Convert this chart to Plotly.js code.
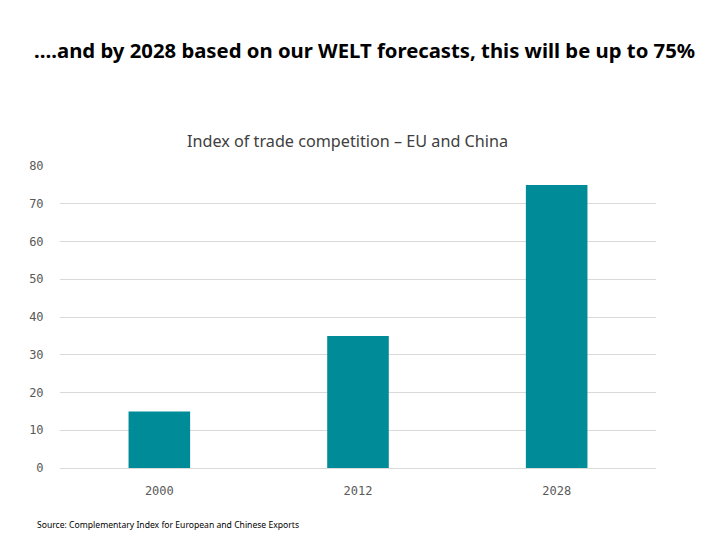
<!DOCTYPE html>
<html>
<head>
<meta charset="utf-8">
<script src="https://cdn.plot.ly/plotly-3.0.1.min.js"></script>
<style>body{margin:0;padding:0;background:#fff}#chart{width:720px;height:540px}</style>
</head>
<body>
<div id="chart"></div>
<script>
const categories = ["2000", "2012", "2028"];
const values = [15, 35, 75];
const yTicks = [0, 10, 20, 30, 40, 50, 60, 70, 80];

const trace = {
  type: "bar",
  x: categories,
  y: values,
  marker: {color: "#008B98"},
  hoverinfo: "x+y"
};

const layout = {
  width: 720, height: 540,
  margin: {l: 60, r: 64, t: 166, b: 72},
  paper_bgcolor: "#ffffff", plot_bgcolor: "#ffffff",
  bargap: 0.69,
  showlegend: false,
  xaxis: {
    type: "category",
    showgrid: false, zeroline: false, showline: false,
    ticks: "outside", ticklen: 12, tickcolor: "rgba(0,0,0,0)",
    tickfont: {family: "DejaVu Sans Mono, monospace", size: 12, color: "#595959"}
  },
  yaxis: {
    range: [0, 80],
    tickvals: yTicks,
    showgrid: true, gridcolor: "#d9d9d9", gridwidth: 1,
    zeroline: true, zerolinecolor: "#d9d9d9", zerolinewidth: 1,
    showline: false,
    ticks: "outside", ticklen: 13, tickcolor: "rgba(0,0,0,0)",
    tickfont: {family: "DejaVu Sans Mono, monospace", size: 12, color: "#595959"}
  },
  annotations: [
    {text: "<b>….and by 2028 based on our WELT forecasts, this will be up to 75%</b>",
     xref: "paper", yref: "paper", x: 364, y: 50, showarrow: false,
     font: {family: "Noto Sans, sans-serif", size: 20.3, color: "#000000"}},
    {text: "Index of trade competition – EU and China",
     xref: "paper", yref: "paper", x: 347, y: 141, showarrow: false,
     font: {family: "Noto Sans, sans-serif", size: 16.2, color: "#404040"}},
    {text: "Source: Complementary Index for European and Chinese Exports",
     xref: "paper", yref: "paper", x: 35, y: 525, xanchor: "left", showarrow: false,
     font: {family: "Noto Sans, sans-serif", size: 8.6, color: "#000000"}}
  ]
};

// convert pixel positions of annotations to paper coords
const pw = 720 - 60 - 64, ph = 540 - 166 - 72;
layout.annotations.forEach(a => {
  a.x = (a.x - 60) / pw;
  a.y = (540 - 72 - a.y) / ph;
  a.yanchor = "middle";
  if (!a.xanchor) a.xanchor = "center";
});

Plotly.newPlot("chart", [trace], layout, {displayModeBar: false, staticPlot: true});
</script>
</body>
</html>
